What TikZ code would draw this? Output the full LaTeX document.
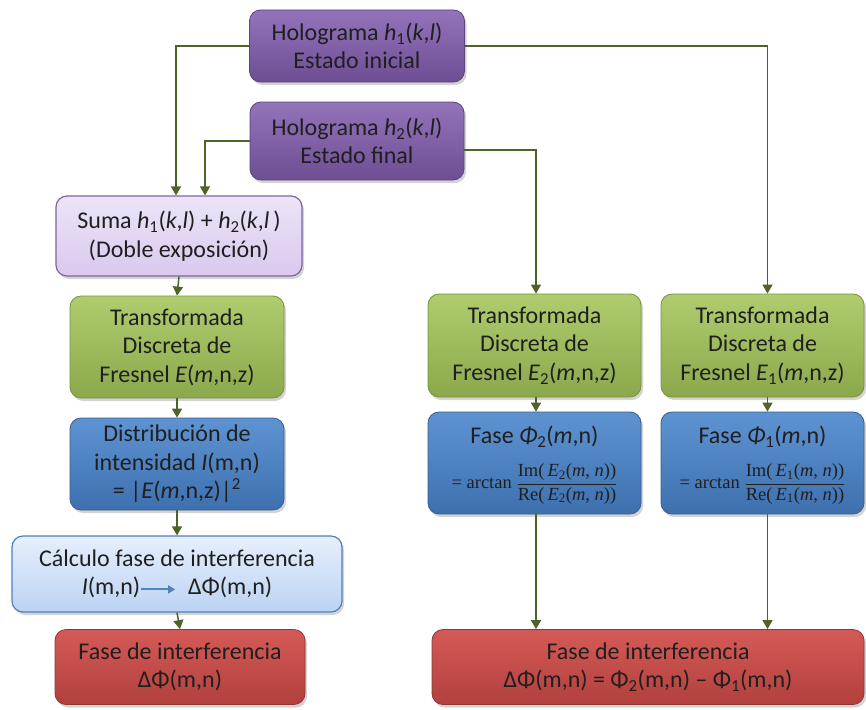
\documentclass[tikz,border=0pt]{standalone}
\usepackage{fontspec}
\setmainfont{Carlito}
\newfontfamily\tms{Liberation Serif}
\usetikzlibrary{shadows,arrows.meta,calc}
\definecolor{arrc}{HTML}{4F6228}
\definecolor{purT}{HTML}{9373BA}
\definecolor{purB}{HTML}{6E4E93}
\definecolor{purD}{HTML}{5C4479}
\definecolor{lavT}{HTML}{EDE4F8}
\definecolor{lavB}{HTML}{D9C9EE}
\definecolor{lavD}{HTML}{8064A2}
\definecolor{grT}{HTML}{AFCD6E}
\definecolor{grB}{HTML}{8BA84C}
\definecolor{grD}{HTML}{76923C}
\definecolor{blT}{HTML}{5E93D2}
\definecolor{blB}{HTML}{3E70AE}
\definecolor{blD}{HTML}{385D8A}
\definecolor{lbT}{HTML}{E6EFFC}
\definecolor{lbB}{HTML}{BCD3F4}
\definecolor{lbD}{HTML}{4F81BD}
\definecolor{rdT}{HTML}{D45A57}
\definecolor{rdB}{HTML}{B2403D}
\definecolor{rdD}{HTML}{8C3836}
\newcommand{\Eterm}[2]{\hbox{\tms #1(\,\textit{E}\textsubscript{#2}(\textit{m}, \textit{n}))}}
\tikzset{
  box/.style={rounded corners=11pt, align=center, inner sep=0pt,
    font=\fontsize{24}{28.5}\selectfont, text=black!88,
    drop shadow={opacity=0.35, shadow xshift=2pt, shadow yshift=-3pt}},
  purbox/.style={box, top color=purT, bottom color=purB, draw=purD, line width=0.8pt},
  lavbox/.style={box, top color=lavT, bottom color=lavB, draw=lavD, line width=1.2pt},
  grbox/.style={box, top color=grT, bottom color=grB, draw=grD, line width=0.8pt},
  blbox/.style={box, top color=blT, bottom color=blB, draw=blD, line width=0.8pt},
  lbbox/.style={box, top color=lbT, bottom color=lbB, draw=lbD, line width=1.2pt},
  rdbox/.style={box, top color=rdT, bottom color=rdB, draw=rdD, line width=0.8pt},
  txt/.style={align=center, inner sep=0pt, font=\fontsize{24}{28.5}\selectfont, text=black!88},
  frm/.style={align=center, inner sep=0pt, font=\fontsize{18.5}{21}\selectfont, text=black!88},
  arr/.style={draw=arrc, line width=1.5pt, -{Triangle[width=10pt,length=9pt]}}
}
\begin{document}
\begin{tikzpicture}[x=1pt,y=-1pt]
\useasboundingbox (0,0) rectangle (866,709);
\node[purbox, minimum width=215pt, minimum height=72pt] (h1) at (357,46)
  {Holograma \textit{h}\textsubscript{1}(\textit{k},\textit{l})\\Estado inicial};
\node[purbox, minimum width=214pt, minimum height=78pt] (h2) at (357,141)
  {Holograma \textit{h}\textsubscript{2}(\textit{k},\textit{l})\\Estado final};
\node[lavbox, minimum width=246pt, minimum height=80pt] (suma) at (179,236)
  {Suma \textit{h}\textsubscript{1}(\textit{k},\textit{l}) + \textit{h}\textsubscript{2}(\textit{k},\textit{l}\,)\\(Doble exposición)};
\node[grbox, minimum width=214pt, minimum height=102pt] (gl) at (177,347)
  {Transformada\\Discreta de\\Fresnel \textit{E}(\textit{m},n,z)};
\node[blbox, minimum width=214pt, minimum height=92pt] (bl) at (177,464)
  {Distribución de\\intensidad \textit{I}(m,n)\\= |\textit{E}(\textit{m},n,z)|\textsuperscript{2}};
\node[lbbox, minimum width=330pt, minimum height=76pt] (calc) at (177,574)
  {Cálculo fase de interferencia\\\textit{I}(m,n)\tikz[baseline=-5.5pt]{\draw[draw=lbD, line width=2pt, -{Triangle[width=8pt,length=7pt]}] (0,0) -- (34pt,0);}\enspace ΔΦ(m,n)};
\node[rdbox, minimum width=250pt, minimum height=75pt] (rl) at (180,667)
  {Fase de interferencia\\ΔΦ(m,n)};
\node[grbox, minimum width=213pt, minimum height=103pt] (g2) at (534.5,345.5)
  {Transformada\\Discreta de\\Fresnel \textit{E}\textsubscript{2}(\textit{m},n,z)};
\node[grbox, minimum width=203pt, minimum height=103pt] (g1) at (762.5,345.5)
  {Transformada\\Discreta de\\Fresnel \textit{E}\textsubscript{1}(\textit{m},n,z)};
\node[blbox, minimum width=213pt, minimum height=102pt] (b2) at (534.5,463) {};
\node[txt] (b2t) at (534.5,437) {Fase \textit{Φ}\textsubscript{2}(\textit{m},n)};
\node[frm] (b2f) at (534.5,484)
  {$\displaystyle\hbox{\tms = arctan}\;\frac{\Eterm{Im}{2}}{\Eterm{Re}{2}}$};
\node[blbox, minimum width=203pt, minimum height=102pt] (b1) at (762.5,463) {};
\node[txt] (b1t) at (762.5,437) {Fase \textit{Φ}\textsubscript{1}(\textit{m},n)};
\node[frm] (b1f) at (762.5,484)
  {$\displaystyle\hbox{\tms = arctan}\;\frac{\Eterm{Im}{1}}{\Eterm{Re}{1}}$};
\node[rdbox, minimum width=432pt, minimum height=75pt] (rr) at (648,667)
  {Fase de interferencia\\ΔΦ(m,n) = Φ\textsubscript{2}(m,n) – Φ\textsubscript{1}(m,n)};
% connector anchor points
\coordinate (sA) at ($(suma.north)+(-3,0)$);
\coordinate (sB) at ($(suma.north)+(26,0)$);
\coordinate (g1n) at ($(g1.north)+(5,0)$);
\coordinate (g2n) at ($(g2.north)+(1.5,0)$);
\coordinate (h2e) at ($(h2.east)+(0,9)$);
\coordinate (g2s) at ($(g2.south)+(1.5,0)$);
\coordinate (g1s) at ($(g1.south)+(5,0)$);
\coordinate (b2s) at ($(b2.south)+(1.5,0)$);
\coordinate (b1s) at ($(b1.south)+(5,0)$);
% connectors
\draw[arr] (h1.west) -| (sA);
\draw[arr] (h2.west) -| (sB);
\draw[arr] (h1.east) -| (g1n);
\draw[arr] (h2e) -| (g2n);
\draw[arr] (suma.south) -- (gl.north);
\draw[arr] (gl.south) -- (bl.north);
\draw[arr] (bl.south) -- (calc.north);
\draw[arr] (calc.south) -- (rl.north);
\draw[arr] (g2s) -- (g2s |- b2.north);
\draw[arr] (g1s) -- (g1s |- b1.north);
\draw[arr] (b2s) -- (b2s |- rr.north);
\draw[arr] (b1s) -- (b1s |- rr.north);
\end{tikzpicture}
\end{document}
